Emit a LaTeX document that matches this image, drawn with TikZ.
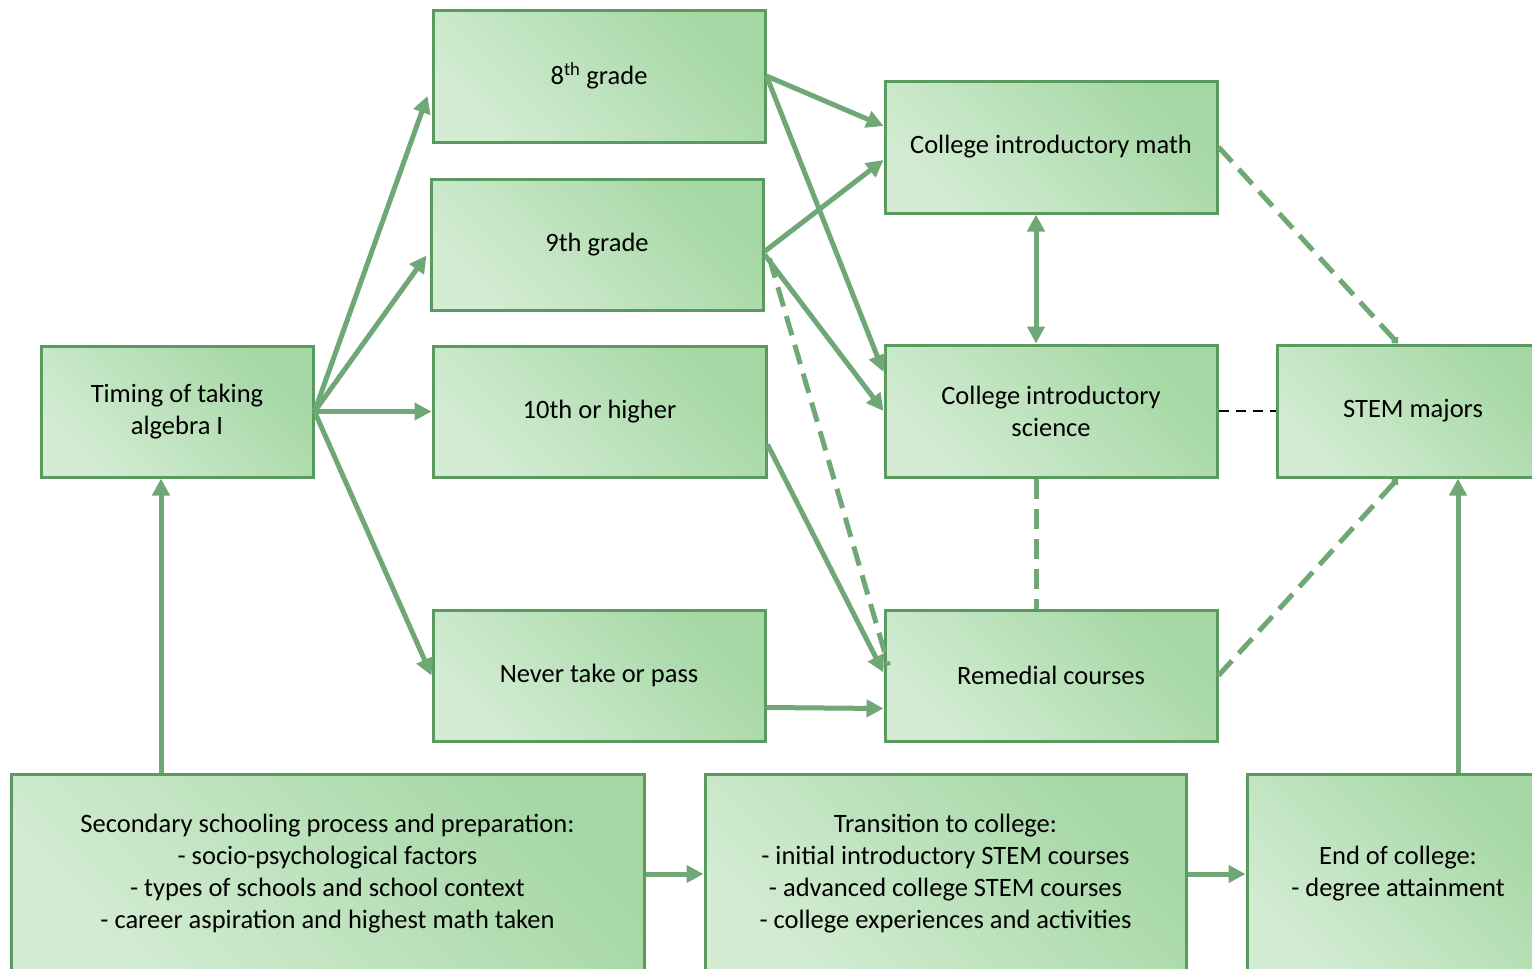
\documentclass[tikz,border=0pt]{standalone}
\usepackage{fontspec}
\setmainfont{Carlito}
\usetikzlibrary{arrows.meta}
\definecolor{boxlight}{HTML}{D3ECD3}
\definecolor{boxdark}{HTML}{A4D7A3}
\definecolor{boxedge}{HTML}{5A9A5E}
\definecolor{arr}{HTML}{6FA777}
\tikzset{
  box/.style={draw=boxedge, line width=3pt, shading=axis, top color=boxdark, bottom color=boxlight, shading angle=-45,
    inner sep=0pt, align=center, font=\fontsize{26.5}{32}\selectfont, text=black},
  arrowline/.style={draw=arr, line width=5pt, -{Triangle[length=17pt,width=17pt]}},
  dblarrow/.style={draw=arr, line width=5pt, {Triangle[length=17pt,width=17pt]}-{Triangle[length=17pt,width=17pt]}},
  gdash/.style={draw=arr, line width=5pt, dash pattern=on 20pt off 10pt},
  gdashd/.style={gdash, -{Diamond[length=9pt,width=9pt,line width=0pt]}},
  kdash/.style={draw=black, line width=2.5pt, dash pattern=on 10pt off 7pt},
}
\begin{document}
\begin{tikzpicture}[x=1pt,y=-1pt]
\useasboundingbox (0,0) rectangle (1532,969);
\node[box, minimum width=272pt, minimum height=131pt] (tim) at (177,411.5) {Timing of taking\\algebra I};
\node[box, minimum width=332pt, minimum height=132pt] (g8) at (599,76) {8\textsuperscript{th} grade};
\node[box, minimum width=332pt, minimum height=131pt] (g9) at (597,244.5) {9th grade};
\node[box, minimum width=333pt, minimum height=131pt] (g10) at (599.5,411.5) {10th or higher};
\node[box, minimum width=332pt, minimum height=131pt] (nev) at (599,675.5) {Never take or pass};
\node[box, minimum width=332pt, minimum height=132pt] (cim) at (1051,147) {College introductory math};
\node[box, minimum width=332pt, minimum height=132pt] (cis) at (1051,411) {College introductory\\science};
\node[box, minimum width=332pt, minimum height=131pt] (rem) at (1051,675.5) {Remedial courses};
\node[box, minimum width=272pt, minimum height=132pt] (stem) at (1413,411) {STEM majors};
\node[box, minimum width=633pt, minimum height=200pt] (sec) at (327.5,874) {Secondary schooling process and preparation:\\- socio-psychological factors\\- types of schools and school context\\- career aspiration and highest math taken};
\node[box, minimum width=481pt, minimum height=200pt] (tra) at (945.5,874) {Transition to college:\\- initial introductory STEM courses\\- advanced college STEM courses\\- college experiences and activities};
\node[box, minimum width=302pt, minimum height=200pt] (endc) at (1398,874) {End of college:\\- degree attainment};

% from timing
\draw[arrowline] (tim.east) -- ([xshift=-4pt,yshift=-20pt]g8.west);
\draw[arrowline] (tim.east) -- ([xshift=-3pt,yshift=-11pt]g9.west);
\draw[arrowline] (tim.east) -- (g10.west);
\draw[arrowline] (tim.east) -- (nev.west);
% grades to college
\draw[arrowline] (g8.east) -- ([yshift=21pt]cim.west);
\draw[arrowline] (g8.east) -- ([yshift=39pt]cis.west);
\draw[arrowline] ([yshift=-7pt]g9.east) -- ([yshift=-13pt]cim.west);
\draw[arrowline] ([yshift=-10pt]g9.east) -- (cis.west);
\draw[gdash] ([xshift=5pt,yshift=-14pt]g9.east) -- ([xshift=5pt,yshift=10pt]rem.west);
\draw[arrowline] ([yshift=-33pt]g10.east) -- ([yshift=3pt]rem.west);
\draw[arrowline] ([yshift=-32pt]nev.east) -- ([yshift=-33pt]rem.west);
% college relations
\draw[dblarrow] ([xshift=-15pt]cim.south) -- ([xshift=-15pt]cis.north);
\draw[gdash] ([xshift=-15pt]cis.south) -- ([xshift=-15pt]rem.north);
\draw[kdash] (cis.east) -- (stem.west);
\draw[gdashd] (cim.east) -- ([xshift=-15pt]stem.north);
\draw[gdashd] (rem.east) -- ([xshift=-15pt]stem.south);
% bottom flow
\draw[arrowline] ([xshift=-166.5pt]sec.north) -- ([xshift=-16pt]tim.south);
\draw[arrowline] (sec.east) -- (tra.west);
\draw[arrowline] (tra.east) -- (endc.west);
\draw[arrowline] ([xshift=60pt]endc.north) -- ([xshift=45pt]stem.south);
\end{tikzpicture}
\end{document}
